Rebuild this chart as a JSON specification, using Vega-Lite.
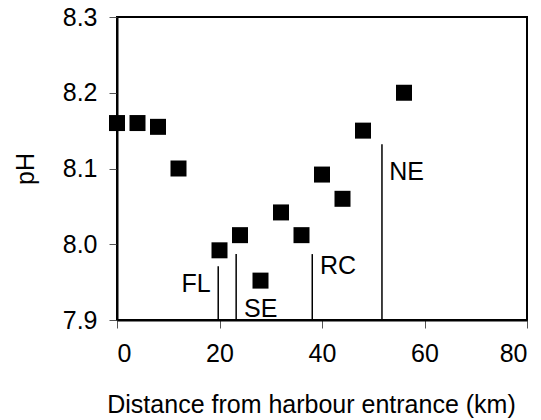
{
  "$schema": "https://vega.github.io/schema/vega-lite/v6.json",
  "autosize": "none",
  "width": 410,
  "height": 303,
  "padding": {"left": 117, "top": 17, "right": 14, "bottom": 100},
  "background": "white",
  "config": {
    "view": {"stroke": "black", "strokeWidth": 2},
    "font": "Liberation Sans",
    "axis": {
      "domainColor": "black", "domainWidth": 2, "tickColor": "#555", "tickWidth": 1, "tickSize": 8,
      "labelFont": "Liberation Sans", "labelFontSize": 25, "labelColor": "black",
      "titleFont": "Liberation Sans", "titleFontSize": 25, "titleFontWeight": "normal", "titleColor": "black",
      "grid": false
    }
  },
  "datasets": {
    "points": [
      {"distance": 0, "pH": 8.16},
      {"distance": 4, "pH": 8.16},
      {"distance": 8, "pH": 8.155},
      {"distance": 12, "pH": 8.1},
      {"distance": 20, "pH": 7.992},
      {"distance": 24, "pH": 8.012},
      {"distance": 28, "pH": 7.952},
      {"distance": 32, "pH": 8.042},
      {"distance": 36, "pH": 8.012},
      {"distance": 40, "pH": 8.092},
      {"distance": 44, "pH": 8.06},
      {"distance": 48, "pH": 8.15},
      {"distance": 56, "pH": 8.2}
    ],
    "sites": [
      {"site": "FL", "x": 19.75, "top": 7.971, "lx": 12.6, "ly": 7.948},
      {"site": "SE", "x": 23.25, "top": 7.987, "lx": 24.8, "ly": 7.914},
      {"site": "RC", "x": 38.1, "top": 7.987, "lx": 39.6, "ly": 7.971},
      {"site": "NE", "x": 51.7, "top": 8.132, "lx": 53.1, "ly": 8.096}
    ]
  },
  "layer": [
    {
      "data": {"name": "points"},
      "mark": {"type": "point", "shape": "square", "filled": true, "color": "black", "opacity": 1, "size": 256},
      "encoding": {
        "x": {"field": "distance", "type": "quantitative", "scale": {"domain": [0, 80]},
          "axis": {"values": [0, 20, 40, 60, 80], "title": "Distance from harbour entrance (km)", "labelPadding": 13, "titleX": 194, "titleY": 92, "titleBaseline": "alphabetic"}},
        "y": {"field": "pH", "type": "quantitative", "scale": {"domain": [7.9, 8.3], "zero": false},
          "axis": {"values": [7.9, 8.0, 8.1, 8.2, 8.3], "format": ".1f", "title": "pH", "labelPadding": 12, "titleX": -92, "titleBaseline": "middle"}}
      }
    },
    {
      "data": {"name": "sites"},
      "mark": {"type": "rule", "color": "black", "strokeWidth": 1.5},
      "encoding": {
        "x": {"field": "x", "type": "quantitative"},
        "y": {"field": "top", "type": "quantitative"},
        "y2": {"datum": 7.9}
      }
    },
    {
      "data": {"name": "sites"},
      "mark": {"type": "text", "align": "left", "baseline": "middle", "fontSize": 25, "font": "Liberation Sans", "color": "black"},
      "encoding": {
        "x": {"field": "lx", "type": "quantitative"},
        "y": {"field": "ly", "type": "quantitative"},
        "text": {"field": "site"}
      }
    }
  ]
}
